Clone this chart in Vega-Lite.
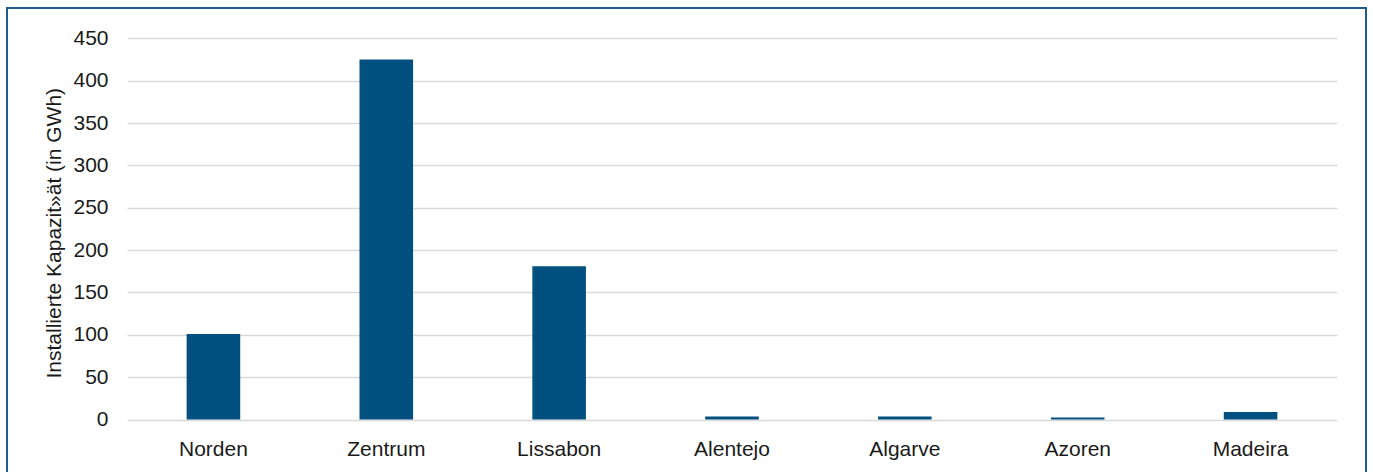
{
  "$schema": "https://vega.github.io/schema/vega-lite/v6.json",
  "width": 1359,
  "height": 470,
  "autosize": "none",
  "padding": {"left": 7, "top": 8, "right": 7, "bottom": 0},
  "background": "white",
  "config": {
    "view": {"stroke": "#1F5B8E", "strokeWidth": 2},
    "font": "Liberation Sans"
  },
  "data": {
    "values": [
      {"region": "Norden", "kapazitaet": 101},
      {"region": "Zentrum", "kapazitaet": 425},
      {"region": "Lissabon", "kapazitaet": 181},
      {"region": "Alentejo", "kapazitaet": 3.5},
      {"region": "Algarve", "kapazitaet": 3.5},
      {"region": "Azoren", "kapazitaet": 2.5},
      {"region": "Madeira", "kapazitaet": 9}
    ]
  },
  "mark": {"type": "bar", "color": "#02507F"},
  "encoding": {
    "x": {
      "field": "region",
      "type": "nominal",
      "sort": null,
      "scale": {"range": [120, 1330], "paddingInner": 0.69, "paddingOuter": 0.345},
      "axis": {
        "title": null,
        "domain": false,
        "ticks": false,
        "tickSize": 0,
        "grid": false,
        "labelAngle": 0,
        "labelPadding": -39.5,
        "labelFont": "Liberation Sans",
        "labelFontSize": 21,
        "labelColor": "#1a1a1a"
      }
    },
    "y": {
      "field": "kapazitaet",
      "type": "quantitative",
      "scale": {"domain": [0, 450], "range": [411.5, 30.3], "nice": false, "zero": true},
      "axis": {
        "title": "Installierte Kapazit»ät (in GWh)",
        "values": [0, 50, 100, 150, 200, 250, 300, 350, 400, 450],
        "domain": false,
        "ticks": false,
        "tickSize": 0,
        "grid": true,
        "gridColor": "#D9D9D9",
        "gridWidth": 1.5,
        "labelPadding": -101,
        "labelFont": "Liberation Sans",
        "labelFontSize": 21,
        "labelColor": "#1a1a1a",
        "titleFont": "Liberation Sans",
        "titleFontSize": 21,
        "titleFontWeight": "normal",
        "titleColor": "#1a1a1a",
        "titleX": 53,
        "titleY": 224.7,
        "titleAngle": -90,
        "titleAlign": "center",
        "titleBaseline": "alphabetic"
      }
    }
  }
}
